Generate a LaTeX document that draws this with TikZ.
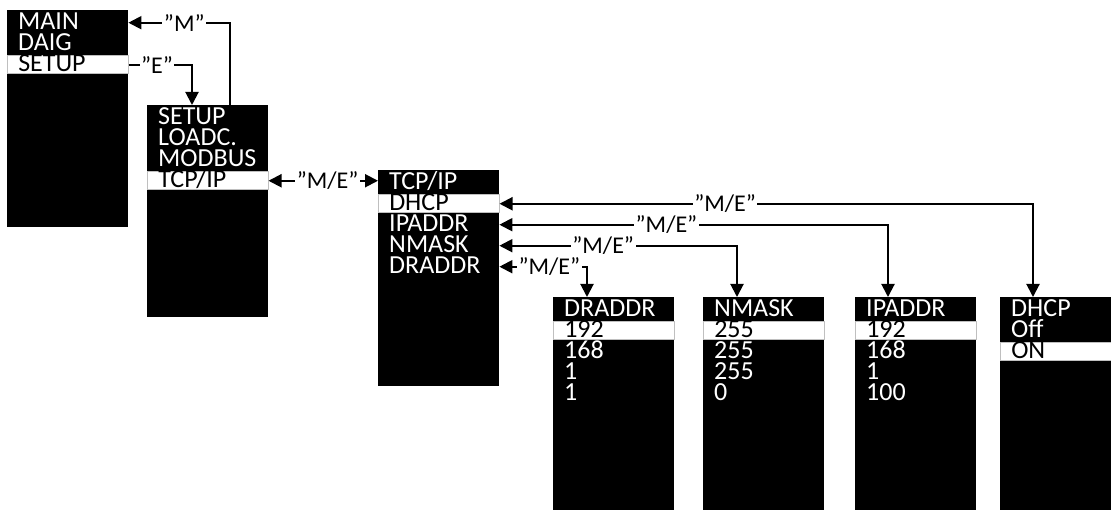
\documentclass[tikz,border=0pt]{standalone}
\usepackage{fontspec}
\setmainfont{Carlito}
\usetikzlibrary{arrows.meta,calc}
\tikzset{
  menubox/.style={fill=black, draw=none, anchor=north west, minimum width=121pt, minimum height=#1, inner sep=0pt},
  mrow/.style={anchor=north west, text width=99pt, inner xsep=11pt, inner ysep=0pt,
    text height=15.5pt, text depth=2.5pt, align=left, font=\fontsize{26}{21}\selectfont, text=white},
  selrow/.style={mrow, fill=white, draw=gray!50, line width=0.5pt, text=black},
  conn/.style={line width=2pt, -{Triangle[length=13pt,width=13pt]}},
  bconn/.style={line width=2pt, {Triangle[length=13pt,width=13pt]}-{Triangle[length=13pt,width=13pt]}},
  lbl/.style={fill=white, inner xsep=1.5pt, inner ysep=1pt, font=\fontsize{24}{24}\selectfont},
}
\newcommand\drawmenu[6]{%
  \node[menubox=#4] (#1) at (#2,#3) {};
  \foreach \t [count=\i from 0] in {#6}{%
    \ifnum\i=#5\relax
      \node[selrow] (#1r\i) at (#2,#3+3.5+21*\i) {\t};
    \else
      \node[mrow] (#1r\i) at (#2,#3+3.5+21*\i) {\t};
    \fi
  }%
}
\begin{document}
\begin{tikzpicture}[x=1pt,y=-1pt]
\useasboundingbox (0,0) rectangle (1111,510);
\clip (0,0) rectangle (1111,510);
\drawmenu{b1}{7}{10}{217pt}{2}{MAIN,DAIG,SETUP}
\drawmenu{b2}{147}{105}{212pt}{3}{SETUP,LOADC.,MODBUS,TCP/IP}
\drawmenu{b3}{378}{170}{216pt}{1}{TCP/IP,DHCP,IPADDR,NMASK,DRADDR}
\drawmenu{dr}{553}{297}{216pt}{1}{DRADDR,192,168,1,1}
\drawmenu{nm}{703}{297}{216pt}{1}{NMASK,255,255,255,0}
\drawmenu{ip}{855}{297}{216pt}{1}{IPADDR,192,168,1,100}
\drawmenu{dh}{1000}{297}{216pt}{2}{DHCP,Off,ON}
% free ends of connectors
\coordinate (Mv) at ([xshift=83pt]b2.north west);
\coordinate (Ev) at ([xshift=45pt]b2.north west);
\coordinate (Dv) at ([xshift=33pt]dh.north west);
\coordinate (Iv) at ([xshift=33pt]ip.north west);
\coordinate (Nv) at ([xshift=34pt]nm.north west);
\coordinate (Rv) at ([xshift=34pt]dr.north west);
% connectors
\draw[conn] (Mv) |- (b1r0.east);
\draw[conn] (b1r2.east) -| (Ev);
\draw[bconn] (b2r3.east) -- (b2r3.east -| b3.west);
\draw[bconn] (b3r1.east) -| (Dv);
\draw[bconn] (b3r2.east) -| (Iv);
\draw[bconn] (b3r3.east) -| (Nv);
\draw[bconn] (b3r4.east) -| (Rv);
% labels
\node[lbl] (lM) at ($(b1r0.east)!0.55!(b1r0.east -| Mv)$) {”M”};
\node[lbl] (lE) at ($(b1r2.east)!0.45!(b1r2.east -| Ev)$) {”E”};
\node[lbl] (lT) at ($(b2r3.east)!0.54!(b2r3.east -| b3.west)$) {”M/E”};
\node[lbl] (lD) at ($(b3r1.east)!0.423!(b3r1.east -| Dv)$) {”M/E”};
\node[lbl] (lI) at ($(b3r2.east)!0.43!(b3r2.east -| Iv)$) {”M/E”};
\node[lbl] (lN) at ($(b3r3.east)!0.437!(b3r3.east -| Nv)$) {”M/E”};
\node[lbl] (lR) at ($(b3r4.east)!0.57!(b3r4.east -| Rv)$) {”M/E”};
\end{tikzpicture}
\end{document}
